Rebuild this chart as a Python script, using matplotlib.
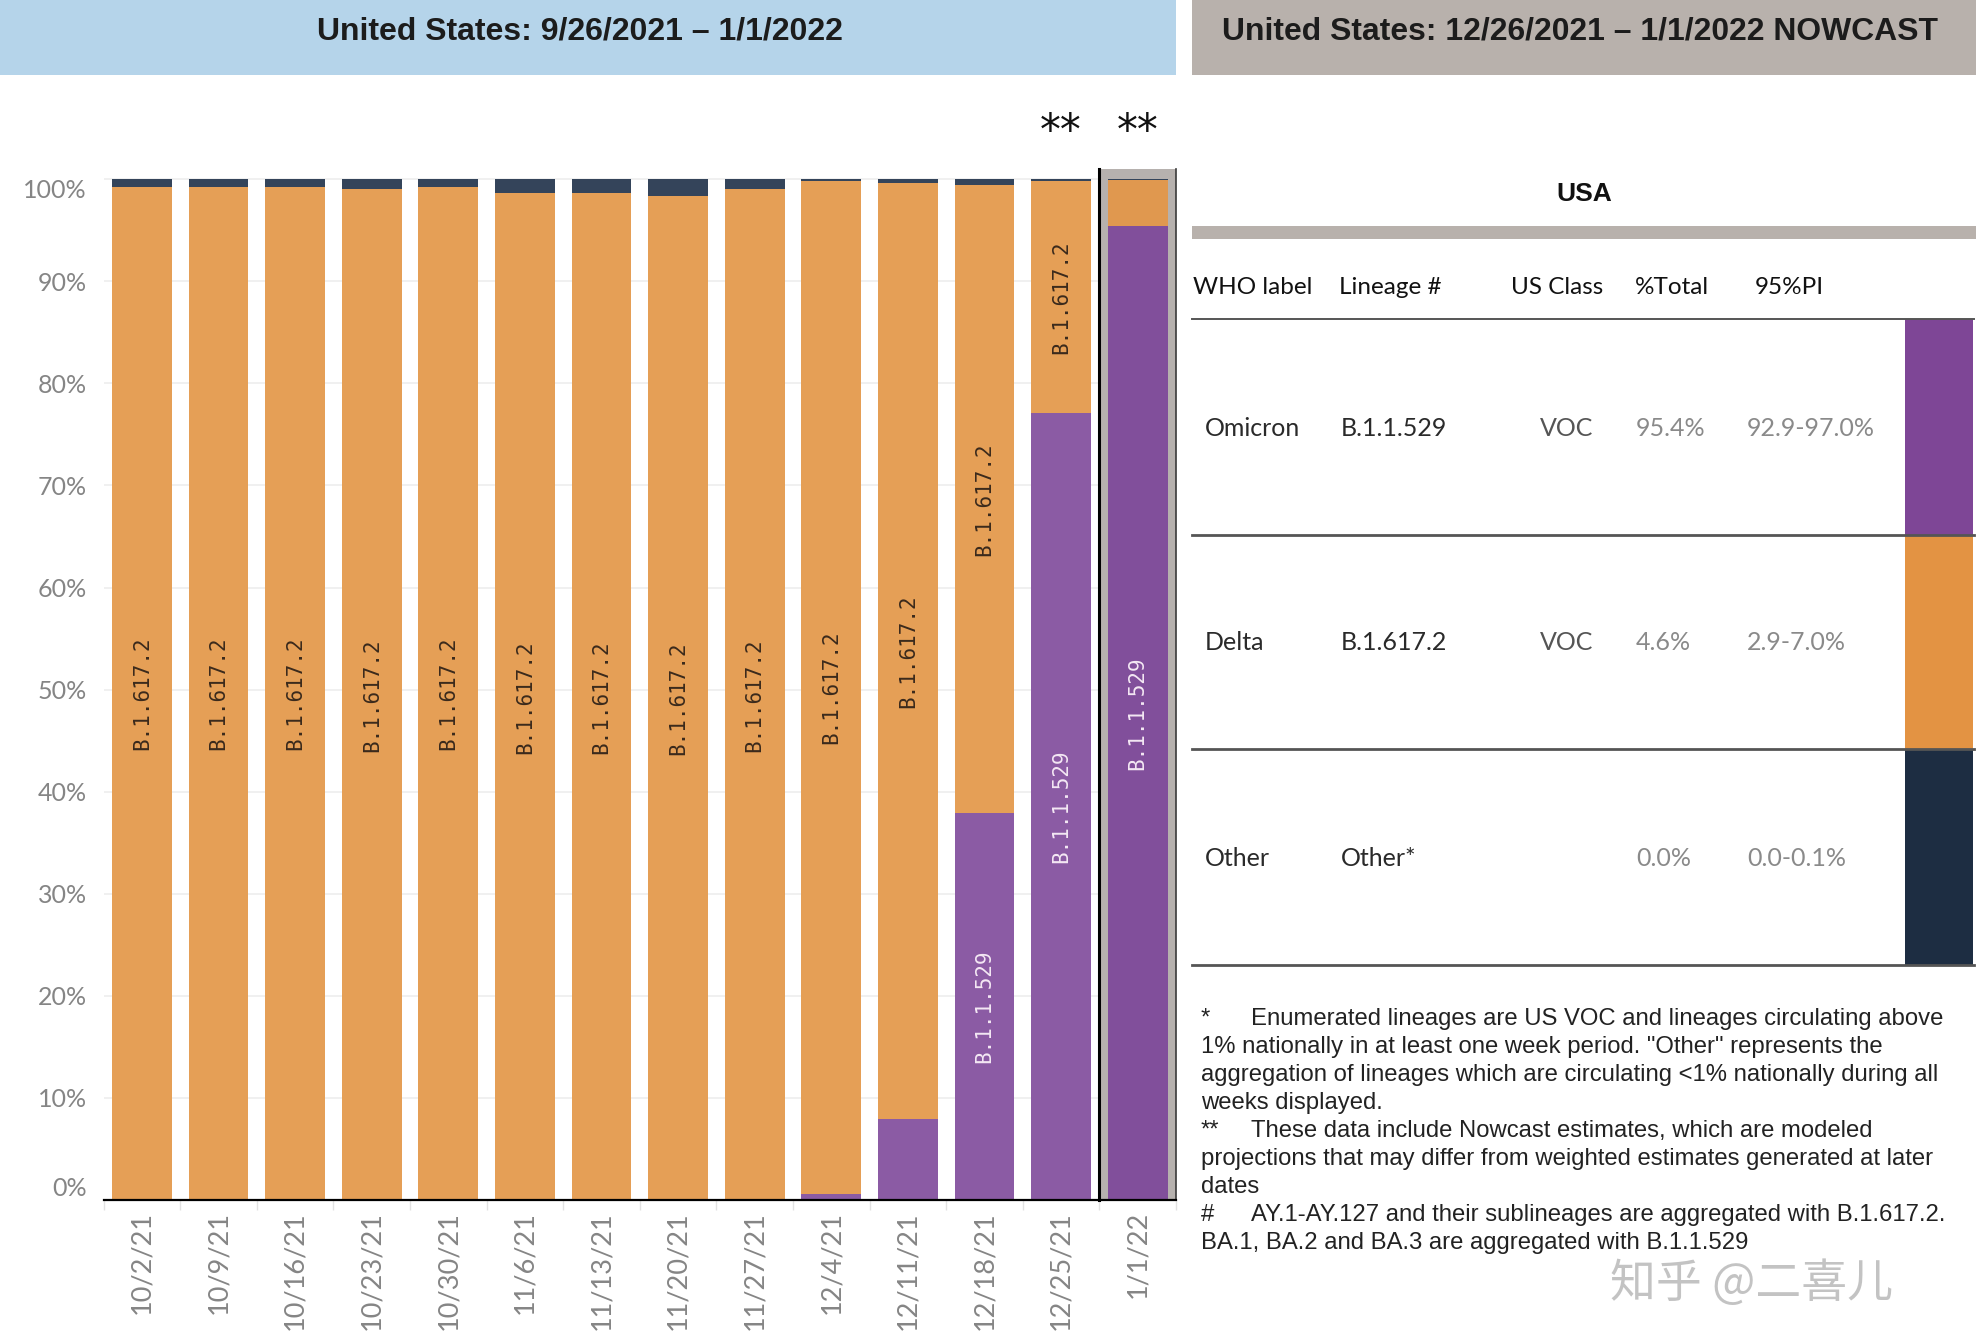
import matplotlib
matplotlib.use('Agg')
import matplotlib.pyplot as plt
from matplotlib import font_manager
from matplotlib.patches import Rectangle
import numpy as np

# ---------------- data ----------------
weeks = ['10/2/21', '10/9/21', '10/16/21', '10/23/21', '10/30/21', '11/6/21',
         '11/13/21', '11/20/21', '11/27/21', '12/4/21', '12/11/21', '12/18/21',
         '12/25/21', '1/1/22']
omicron = [0, 0, 0, 0, 0, 0, 0, 0, 0, 0.6, 7.9, 37.9, 77.1, 95.4]
delta = [99.2, 99.2, 99.2, 99.0, 99.2, 98.6, 98.6, 98.4, 99.0, 99.2, 91.7, 61.5, 22.7, 4.5]
other = [0.8, 0.8, 0.8, 1.0, 0.8, 1.4, 1.4, 1.6, 1.0, 0.2, 0.4, 0.6, 0.2, 0.1]
omicron_name = 'B.1.1.529'
delta_name = 'B.1.617.2'
nowcast_marks = ['12/25/21', '1/1/22']
yticks = list(range(0, 101, 10))
ytick_labels = [f'{v}%' for v in yticks]

left_title = 'United States: 9/26/2021 \u2013 1/1/2022'
right_title = 'United States: 12/26/2021 \u2013 1/1/2022 NOWCAST'
region = 'USA'
table_headers = ['WHO label', 'Lineage #', 'US Class', '%Total', '95%PI']
who_labels = ['Omicron', 'Delta', 'Other']
lineages = ['B.1.1.529', 'B.1.617.2', 'Other*']
us_class = ['VOC', 'VOC', '']
pct_total = ['95.4%', '4.6%', '0.0%']
pi95 = ['92.9-97.0%', '2.9-7.0%', '0.0-0.1%']
footnote_marks = ['*', '', '', '', '**', '', '', '#', '']
footnote_lines = [
    'Enumerated lineages are US VOC and lineages circulating above',
    '1% nationally in at least one week period. "Other" represents the',
    'aggregation of lineages which are circulating <1% nationally during all',
    'weeks displayed.',
    'These data include Nowcast estimates, which are modeled',
    'projections that may differ from weighted estimates generated at later',
    'dates',
    'AY.1-AY.127 and their sublineages are aggregated with B.1.617.2.',
    'BA.1, BA.2 and BA.3 are aggregated with B.1.1.529',
]
watermark = '知乎 @二喜儿'

# ---------------- styles ----------------
installed = {f.name for f in font_manager.fontManager.ttflist}
narrow = 'Liberation Sans Narrow' if 'Liberation Sans Narrow' in installed else 'Liberation Sans'
body = 'Lato' if 'Lato' in installed else 'DejaVu Sans'
mono = 'DejaVu Sans Mono'

ORANGE = '#e59f56'
PURPLE = '#8b5ba4'
DARK = '#34445a'
ORANGE_HL = '#e0984f'
PURPLE_HL = '#814f9b'
BLUE_BAND = '#b5d4ea'
GRAY_BAND = '#b8b1ac'
TICK_GRAY = '#858585'

W, H = 1984, 1334
fig = plt.figure(figsize=(W / 100, H / 100), dpi=100)
fig.patch.set_facecolor('white')

bg = fig.add_axes([0, 0, 1, 1])
bg.set_xlim(0, W)
bg.set_ylim(H, 0)
bg.axis('off')

# title bands
bg.add_patch(Rectangle((0, 0), 1176, 75, color=BLUE_BAND, lw=0))
bg.add_patch(Rectangle((1192, 0), 784, 75, color=GRAY_BAND, lw=0))
t_left = bg.text(580, 31, left_title, ha='center', va='center', fontsize=22,
                 fontweight='bold', family=narrow, color='#1c1c1c')
t_right = bg.text(1580, 31, right_title, ha='center', va='center', fontsize=22,
                  fontweight='bold', family=narrow, color='#1c1c1c')

# ---------------- bar chart ----------------
ax_l, ax_r, ax_b, ax_t = 103.7, 1176, 1200, 169
ax = fig.add_axes([ax_l / W, (H - ax_b) / H, (ax_r - ax_l) / W, (ax_b - ax_t) / H])
ax.set_facecolor('none')
n = len(weeks)
x = np.arange(n)
ax.set_xlim(-0.5, n - 0.5)
ax.set_ylim(0, 101)

# highlight of the nowcast week
ax.add_patch(Rectangle((n - 1.5, 0), 1, 101, color='#b6b1ae', lw=0, zorder=0.6))
ax.plot([n - 1.5, n - 1.5], [0, 101], color='black', lw=2.2, zorder=3, clip_on=False)
ax.plot([n - 0.5, n - 0.5], [0, 101], color='#3a3a3a', lw=1.2, zorder=3, clip_on=False)

om = np.array(omicron)
de = np.array(delta)
ot = np.array(other)
pcol = [PURPLE] * (n - 1) + [PURPLE_HL]
ocol = [ORANGE] * (n - 1) + [ORANGE_HL]
bw = 0.78
ax.bar(x, om, width=bw, color=pcol, zorder=2, lw=0)
ax.bar(x, de, width=bw, bottom=om, color=ocol, zorder=2, lw=0)
ax.bar(x, ot, width=bw, bottom=om + de, color=DARK, zorder=2, lw=0)

for i in range(n):
    if om[i] >= 10:
        ax.text(x[i], om[i] / 2, omicron_name, rotation=90, ha='center', va='center',
                family=mono, fontsize=15, color='#f4e8f4', zorder=4)
    if de[i] >= 10:
        ax.text(x[i], om[i] + de[i] / 2, delta_name, rotation=90, ha='center', va='center',
                family=mono, fontsize=15, color='#3b2a1c', zorder=4)

for wk in nowcast_marks:
    i = weeks.index(wk)
    ax.text(x[i], 104.6, '**', ha='center', va='center', fontsize=30,
            color='#111111', clip_on=False)

ax.set_yticks(yticks)
ax.set_yticklabels(ytick_labels, family=body, fontsize=18, color=TICK_GRAY)
ylabs = ax.get_yticklabels()
ylabs[-1].set_va('top')
ylabs[0].set_va('bottom')
ax.set_xticks(x)
ax.set_xticklabels(weeks, rotation=90, family=body, fontsize=19.5, color=TICK_GRAY,
                   va='top', ha='center')
ax.set_xticks(np.arange(-0.5, n, 1), minor=True)
ax.tick_params(axis='both', which='major', length=0)
ax.tick_params(axis='y', pad=12)
ax.tick_params(axis='x', pad=8)
ax.tick_params(axis='x', which='minor', length=7, color='#e2e2e2', width=1)
ax.yaxis.grid(True, color='#eeeeee', lw=1.2)
ax.set_axisbelow(True)
for s in ['top', 'left', 'right']:
    ax.spines[s].set_visible(False)
ax.spines['bottom'].set_color('black')
ax.spines['bottom'].set_linewidth(1.6)
ax.spines['bottom'].set_zorder(5)

# ---------------- table ----------------
bg.text(1584, 194, region, ha='center', va='center', fontsize=19, fontweight='bold',
        family=narrow, color='#111111')
bg.add_patch(Rectangle((1192, 226), 784, 13, color=GRAY_BAND, lw=0))
head_x = [1193, 1339, 1511, 1635, 1755]
for hx, h in zip(head_x, table_headers):
    bg.text(hx, 287, h, ha='left', va='center', fontsize=17.5, family=body, color='#111111')
bg.plot([1192, 1974], [319, 319], color='#555555', lw=1.4)
row_edges = [319, 535, 749, 965]
swatch = ['#7e4696', '#e39343', '#1d2d42']
col_x = [1205, 1341, 1540, 1636, 1747]
col_color = ['#2a2a2a', '#2a2a2a', '#555555', '#8a8a8a', '#8a8a8a']
for r in range(3):
    y0, y1 = row_edges[r], row_edges[r + 1]
    bg.add_patch(Rectangle((1905, y0), 68, y1 - y0, color=swatch[r], lw=0))
    bg.plot([1192, 1974], [y1, y1], color='#555555', lw=2)
    yc = (y0 + y1) / 2 + 1
    vals = [who_labels[r], lineages[r], us_class[r], pct_total[r], pi95[r]]
    for cx, v, c in zip(col_x, vals, col_color):
        bg.text(cx, yc, v, ha='left', va='center', fontsize=18, family=body, color=c)

# ---------------- footnotes ----------------
fn_texts = []
for k, (m, line) in enumerate(zip(footnote_marks, footnote_lines)):
    y = 1019 + k * 28.0
    if m:
        bg.text(1201, y, m, ha='left', va='center', fontsize=16, family=narrow, color='#222222')
        t = bg.text(1251, y, line, ha='left', va='center', fontsize=16, family=narrow,
                    color='#222222')
    else:
        t = bg.text(1201, y, line, ha='left', va='center', fontsize=16, family=narrow,
                    color='#222222')
    fn_texts.append(t)

bg.text(1752, 1284, watermark, ha='center', va='center', fontsize=33,
        family=['Noto Sans CJK SC', 'DejaVu Sans'], color='#b9b9b9', alpha=0.85)

# fit some text widths to the reference
fig.canvas.draw()
rend = fig.canvas.get_renderer()


def fit(t, target):
    w = t.get_window_extent(rend).width
    if w > 0:
        t.set_fontsize(t.get_fontsize() * target / w)


fit(t_left, 525)
fit(t_right, 715)
fit(fn_texts[0], 694)
fs = fn_texts[0].get_fontsize()
for t in bg.texts:
    if t in fn_texts or (t.get_text() in footnote_marks and t.get_text()):
        t.set_fontsize(fs)

fig.savefig('out.png', dpi=100, facecolor='white')
